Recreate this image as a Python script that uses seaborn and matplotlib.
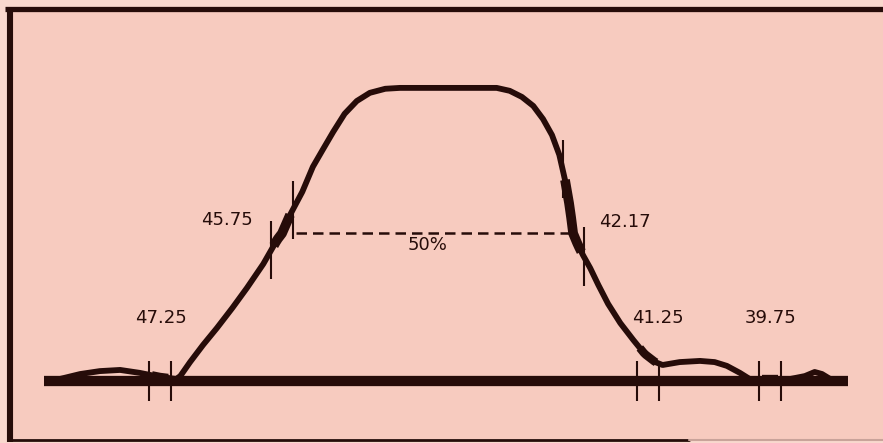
import numpy as np
import pandas as pd
import matplotlib
matplotlib.use("Agg")
import matplotlib.pyplot as plt
import seaborn as sns
from matplotlib.lines import Line2D

# Swept IF response trace: frequency (MHz) vs relative response (%)
trace_freq = [48.48, 48.23, 47.99, 47.74, 47.50, 47.25, 47.05, 47.00, 46.88,
              46.72, 46.55, 46.36, 46.18, 45.98, 45.81, 45.75, 45.65, 45.50,
              45.37, 45.25, 45.12, 44.98, 44.83, 44.67, 44.48, 44.30, 43.11,
              42.95, 42.80, 42.66, 42.54, 42.43, 42.34, 42.27, 42.21, 42.17,
              42.11, 42.05, 41.96, 41.86, 41.74, 41.59, 41.43, 41.29, 41.16,
              41.07, 40.86, 40.61, 40.43, 40.28, 40.12, 40.00, 39.50, 39.32,
              39.20, 39.11, 39.01, 38.82]
trace_resp = [0.0, 1.7, 2.7, 3.1, 2.1, 0.7, 0.0, 1.0, 5.8,
              11.7, 17.5, 24.4, 31.3, 39.5, 47.8, 50.0, 56.4, 64.3,
              72.9, 78.7, 84.9, 91.1, 95.5, 98.3, 99.7, 100.0, 100.0,
              99.0, 96.9, 93.8, 89.3, 83.8, 77.0, 68.4, 58.8, 50.0,
              46.0, 42.6, 38.1, 32.3, 25.8, 19.2, 13.4, 8.6, 5.8,
              4.8, 5.8, 6.2, 5.8, 4.5, 2.1, 0.0, 0.0, 1.0,
              2.4, 1.7, 0.0, 0.0]

# Marker frequencies (MHz) and their printed labels
marker_freq = [47.25, 45.75, 42.17, 41.25, 39.75]
marker_text = ["47.25", "45.75", "42.17", "41.25", "39.75"]

# Bandwidth reference level
half_level = 50
half_text = "50%"

# Sweep span of the zero-reference line (MHz)
sweep_span = [48.68, 38.79]

INK = "#260c09"
PAPER = "#f7cbbf"

sns.set_theme(style="white")
plt.rcParams["font.family"] = ["DejaVu Sans"]

fig = plt.figure(figsize=(8.83, 4.43), dpi=100)
fig.patch.set_facecolor("#f9d8ce")
ax = fig.add_axes([0, 0, 1, 1])
ax.set_facecolor(PAPER)
ax.set_xlim(49.217, 38.360)
ax.set_ylim(-22.0, 130.2)
ax.axis("off")

# panel background inside the frame
ax.add_patch(plt.Rectangle((0.011, 0.008), 0.989, 0.97, transform=fig.transFigure,
                           facecolor=PAPER, edgecolor="none", zorder=0))

df = pd.DataFrame({"freq": trace_freq, "resp": trace_resp})

# zero reference line
base_level = -0.7
ax.plot(sweep_span, [base_level, base_level], color=INK, lw=7.4,
        solid_capstyle="butt", zorder=2)

# response trace
sns.lineplot(data=df, x="freq", y="resp", ax=ax, color=INK, lw=4.2,
             estimator=None, sort=False, zorder=3)
trace_line = ax.get_lines()[-1]
trace_line.set_solid_capstyle("butt")
trace_line.set_solid_joinstyle("round")

fx = np.array(trace_freq)[::-1]
fy = np.array(trace_resp)[::-1]

# marker pips: thickened trace plus a pair of vertical spikes
for f in marker_freq:
    lvl = np.interp(f, fx, fy)
    on_slope = lvl > 20
    xs = np.linspace(f - 0.1, f + 0.1, 9)
    ys = np.interp(xs, fx, fy)
    ax.plot(xs, ys, color=INK, lw=7 if on_slope else 6,
            solid_capstyle="butt", zorder=3)
    for d in (-0.13, 0.13):
        if on_slope:
            y0, h = np.interp(f + d, fx, fy), 10
        else:
            y0, h = base_level, 7
        ax.vlines(f + d, y0 - h, y0 + h, color=INK, lw=1.5, zorder=4)

# 50 % bandwidth line
ax.plot([marker_freq[1] - 0.17, marker_freq[2] + 0.03], [half_level, half_level],
        color=INK, lw=1.8, dashes=(4.2, 2.4), zorder=3)
ax.text(np.mean(marker_freq[1:3]), half_level - 4, half_text, color=INK,
        fontsize=13, ha="center", va="center")

# frequency labels
label_pos = {
    "47.25": (0.01, 21.1),
    "45.75": (-0.68, 54.7),
    "42.17": (0.64, 54.0),
    "41.25": (0.12, 21.1),
    "39.75": (0.01, 21.1),
}
for f, t in zip(marker_freq, marker_text):
    dx, y = label_pos[t]
    ax.text(f - dx, y, t, color=INK, fontsize=13, ha="center", va="center")

# frame
fig.add_artist(Line2D([0.006, 1.0], [0.9786, 0.9786], transform=fig.transFigure,
                      color=INK, lw=3.8, solid_capstyle="butt"))
fig.add_artist(Line2D([0.0108, 0.0108], [0.003, 0.982], transform=fig.transFigure,
                      color=INK, lw=4.4, solid_capstyle="butt"))
fig.add_artist(Line2D([0.0108, 0.78], [0.006, 0.006], transform=fig.transFigure,
                      color=INK, lw=2.0))
fig.add_artist(Line2D([0.78, 1.0], [0.006, 0.006], transform=fig.transFigure,
                      color="#c9a39a", lw=1.5))

fig.savefig("out.png", dpi=100, facecolor=fig.get_facecolor())
